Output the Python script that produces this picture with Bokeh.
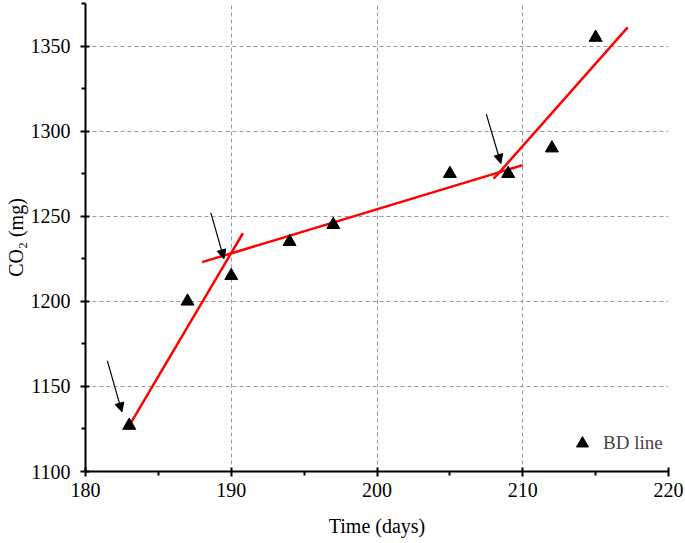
from bokeh.plotting import figure
from bokeh.models import (ColumnDataSource, FixedTicker, Arrow, NormalHead, Legend, LegendItem, Range1d)
from bokeh.embed import file_html
from bokeh.resources import INLINE

# measured data
days = [183, 187, 190, 194, 197, 205, 209, 212, 215]
co2 = [1127, 1200, 1215, 1235, 1245, 1275, 1275, 1290, 1355]

# fitted red segments (start/end)
fit_x0 = [183.0, 188.0, 208.0]
fit_y0 = [1127.0, 1223.0, 1272.0]
fit_x1 = [190.8, 210.0, 217.2]
fit_y1 = [1240.0, 1280.0, 1361.0]

# arrows marking breakpoints
arr_x0 = [181.5, 188.6, 207.5]
arr_y0 = [1165.0, 1252.0, 1310.0]
arr_x1 = [182.5, 189.5, 208.5]
arr_y1 = [1135.0, 1225.0, 1281.0]

x_ticks = [180, 190, 200, 210, 220]
x_minor = [185, 195, 205, 215]
y_ticks = [1100, 1150, 1200, 1250, 1300, 1350]
y_minor = [1125, 1175, 1225, 1275, 1325, 1375]

FONT = "Liberation Serif"

p = figure(width=685, height=543, output_backend="svg", toolbar_location=None,
           x_range=Range1d(180, 220), y_range=Range1d(1100, 1375),
           min_border_left=85, min_border_right=17, min_border_top=3, min_border_bottom=72)
p.outline_line_color = None

p.xaxis.ticker = FixedTicker(ticks=x_ticks, minor_ticks=x_minor)
p.yaxis.ticker = FixedTicker(ticks=y_ticks, minor_ticks=y_minor)
p.xgrid.ticker = FixedTicker(ticks=[190, 200, 210])
p.ygrid.ticker = FixedTicker(ticks=[1150, 1200, 1250, 1300, 1350])
for g in (p.xgrid, p.ygrid):
    g.grid_line_color = "#999999"
    g.grid_line_dash = "4 3"
    g.grid_line_width = 1

for ax in (p.xaxis, p.yaxis):
    ax.axis_line_width = 2
    ax.axis_line_color = "black"
    ax.major_tick_line_width = 2
    ax.minor_tick_line_width = 2
    ax.major_tick_in = 4
    ax.major_tick_out = 5
    ax.minor_tick_in = 0
    ax.minor_tick_out = 4
    ax.major_label_text_font = FONT
    ax.major_label_text_font_size = "20px"
    ax.major_label_text_color = "black"
    ax.axis_label_text_font = FONT
    ax.axis_label_text_font_size = "20px"
    ax.axis_label_text_font_style = "normal"
    ax.axis_label_text_color = "black"

p.xaxis.axis_label = "Time (days)"
p.yaxis.axis_label = "CO\u2082 (mg)"
p.xaxis.major_label_standoff = 6
p.xaxis.axis_label_standoff = 15
p.yaxis.major_label_standoff = 10
p.yaxis.axis_label_standoff = 1

p.segment(x0=fit_x0, y0=fit_y0, x1=fit_x1, y1=fit_y1, line_color="red", line_width=2.5)

src = ColumnDataSource(dict(x=days, y=co2))
r = p.scatter("x", "y", source=src, marker="triangle", size=13, fill_color="black", line_color="black")

asrc = ColumnDataSource(dict(x0=arr_x0, y0=arr_y0, x1=arr_x1, y1=arr_y1))
p.add_layout(Arrow(end=NormalHead(size=9, fill_color="black", line_color="black", line_width=1),
                   x_start="x0", y_start="y0", x_end="x1", y_end="y1",
                   source=asrc, line_width=1.2, line_color="black"))

legend = Legend(items=[LegendItem(label="BD line", renderers=[r])], location=(482, 13))
legend.border_line_color = None
legend.background_fill_alpha = 0
legend.label_text_font = FONT
legend.label_text_font_size = "19px"
legend.glyph_width = 30
legend.glyph_height = 30
legend.label_standoff = 6
legend.margin = 0
legend.padding = 0
p.add_layout(legend)

open("out.html", "w").write(file_html(p, INLINE))
